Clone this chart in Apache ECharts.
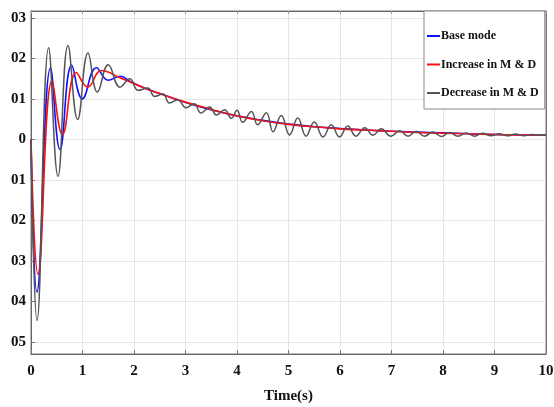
<!DOCTYPE html>
<html>
<head>
<meta charset="utf-8">
<script src="https://cdn.jsdelivr.net/npm/echarts@6/dist/echarts.min.js"></script>
<style>
  html, body { margin: 0; padding: 0; background: #fff; }
  #main { width: 554px; height: 407px; }
</style>
</head>
<body>
<div id="main"></div>
<script>
// series names
var seriesNames = ["Base mode", "Increase in M & D", "Decrease in M & D"];

// x axis ticks (s)
var xTicks = [0, 1, 2, 3, 4, 5, 6, 7, 8, 9, 10];
// y axis ticks and their labels as printed
var yTicks = [0.03, 0.02, 0.01, 0, -0.01, -0.02, -0.03, -0.04, -0.05];
var yLabels = ["03", "02", "01", "0", "01", "02", "03", "04", "05"];

// base mode (blue): read at turning points then along the decay
var tBase = [0, 0.115, 0.38, 0.563, 0.79, 0.997, 1.27, 1.50, 1.73, 1.95, 2.2, 2.5, 3.0, 3.5, 4.0, 4.5, 5.0, 5.5, 6.0, 6.5, 7.0, 7.5, 8.0, 8.5, 9.0, 9.5, 10];
var vBase = [0, -0.0377, 0.0177, -0.0025, 0.0183, 0.0100, 0.0177, 0.0146, 0.0156, 0.0141, 0.0127, 0.0113, 0.0091, 0.0073, 0.0058, 0.0047, 0.0038, 0.0031, 0.0027, 0.0023, 0.0020, 0.0018, 0.0016, 0.0014, 0.0012, 0.0011, 0.0010];

// increase in M & D (red)
var tInc = [0, 0.136, 0.41, 0.61, 0.88, 1.10, 1.37, 1.73, 2.0, 2.2, 2.5, 3.0, 3.5, 4.0, 4.5, 5.0, 5.5, 6.0, 6.5, 7.0, 7.5, 8.0, 8.5, 9.0, 9.5, 10];
var vInc = [0, -0.0333, 0.0146, 0.0012, 0.0165, 0.0129, 0.0170, 0.0152, 0.0138, 0.0127, 0.0113, 0.0092, 0.0074, 0.0058, 0.0046, 0.0037, 0.0031, 0.0026, 0.0023, 0.0020, 0.0017, 0.0015, 0.0014, 0.0012, 0.0011, 0.0010];

// decrease in M & D (gray): peaks and troughs of the oscillation
var tDec = [0, 0.117, 0.343, 0.524, 0.718, 0.906, 1.107, 1.29, 1.50, 1.73, 1.92, 2.08, 2.27, 2.40, 2.56, 2.69, 2.85, 3.01, 3.17, 3.30, 3.47, 3.60, 3.76, 3.89, 4.00, 4.11, 4.28, 4.40, 4.57, 4.70, 4.86, 5.02, 5.18, 5.34, 5.50, 5.67, 5.83, 5.99, 6.15, 6.31, 6.48, 6.64, 6.80, 6.99, 7.16, 7.32, 7.48, 7.64, 7.80, 7.97, 8.13, 8.29, 8.45, 8.61, 8.77, 8.93, 9.09, 9.25, 9.41, 9.57, 9.73, 9.89, 10];
var vDec = [0, -0.0447, 0.0226, -0.0091, 0.0232, 0.0049, 0.0213, 0.0117, 0.0184, 0.0129, 0.0150, 0.0121, 0.0127, 0.0106, 0.0112, 0.0090, 0.0098, 0.0078, 0.0088, 0.0065, 0.0080, 0.0060, 0.0073, 0.0052, 0.0072, 0.0042, 0.0069, 0.0036, 0.0066, 0.0019, 0.0059, 0.0011, 0.0053, 0.0008, 0.0043, 0.0006, 0.0036, 0.0006, 0.0033, 0.0008, 0.0029, 0.0010, 0.0026, 0.0008, 0.0021, 0.0008, 0.0020, 0.0008, 0.0018, 0.0007, 0.0017, 0.0008, 0.0016, 0.0008, 0.0015, 0.0009, 0.0014, 0.0009, 0.0013, 0.0009, 0.0012, 0.0010, 0.0011];

function pairs(t, v) {
  return t.map(function (x, i) { return [x, v[i]]; });
}

var font = "'Liberation Serif', 'Times New Roman', serif";
var chart = echarts.init(document.getElementById("main"), null, { renderer: "canvas" });

function yFmt(val) {
  for (var i = 0; i < yTicks.length; i++) {
    if (Math.abs(val - yTicks[i]) < 1e-6) return yLabels[i];
  }
  return "";
}

var axisLine = { onZero: false, lineStyle: { color: "#666", width: 1 } };
var split = { show: true, lineStyle: { color: "#e6e6e6", width: 1 } };

chart.setOption({
  backgroundColor: "#fff",
  animation: false,
  grid: { left: 31, right: 8, top: 11, bottom: 53, outerBoundsMode: "none", containLabel: false, show: true, borderColor: "#777", borderWidth: 1, backgroundColor: "#fff" },
  legend: {
    orient: "vertical",
    left: 424,
    top: 11,
    data: seriesNames,
    icon: "rect",
    backgroundColor: "#fff",
    borderColor: "#888",
    borderWidth: 1,
    borderRadius: 0,
    padding: [18, 6, 9, 3],
    itemWidth: 13,
    itemHeight: 2,
    itemGap: 14.5,
    textStyle: { fontFamily: font, fontWeight: "bold", fontSize: 12, lineHeight: 14, color: "#111", padding: [0, 0, 0, -4] }
  },
  xAxis: [{
    type: "value",
    min: xTicks[0],
    max: xTicks[xTicks.length - 1],
    interval: 1,
    name: "Time(s)",
    nameLocation: "middle",
    nameGap: 35,
    nameTextStyle: { fontFamily: font, fontWeight: "bold", fontSize: 15, color: "#111" },
    axisLine: axisLine,
    axisTick: { inside: true, length: 4, lineStyle: { color: "#777" } },
    axisLabel: { fontFamily: font, fontWeight: "bold", fontSize: 15, color: "#111", margin: 10 },
    splitLine: split
  }, {
    type: "value",
    position: "top",
    min: 0, max: 10, interval: 1,
    axisLine: axisLine,
    axisTick: { inside: true, length: 3, lineStyle: { color: "#999" } },
    axisLabel: { show: false },
    splitLine: { show: false }
  }],
  yAxis: [{
    type: "value",
    min: -0.053,
    max: 0.0317,
    splitNumber: 8,
    axisLine: { show: true, onZero: false, lineStyle: { color: "#666", width: 1 } },
    axisTick: { show: true, inside: true, length: 4, lineStyle: { color: "#777" } },
    axisLabel: { fontFamily: font, fontWeight: "bold", fontSize: 15, color: "#111", margin: 5, formatter: yFmt, showMinLabel: false, showMaxLabel: false },
    splitLine: split
  }, {
    type: "value",
    position: "right",
    min: -0.053,
    max: 0.0317,
    splitNumber: 8,
    axisLine: { show: true, onZero: false, lineStyle: { color: "#777", width: 1 } },
    axisTick: { show: false },
    axisLabel: { show: false },
    splitLine: { show: false }
  }],
  series: [{
    name: seriesNames[0],
    type: "line",
    data: pairs(tBase, vBase),
    smooth: 0.45,
    symbol: "none",
    color: "#1010ff",
    lineStyle: { width: 1.6, color: "#1010ff" }
  }, {
    name: seriesNames[1],
    type: "line",
    data: pairs(tInc, vInc),
    smooth: 0.45,
    symbol: "none",
    color: "#ff1010",
    lineStyle: { width: 1.6, color: "#ff1010" }
  }, {
    name: seriesNames[2],
    type: "line",
    data: pairs(tDec, vDec),
    smooth: 0.45,
    symbol: "none",
    color: "#555",
    lineStyle: { width: 1.5, color: "#555" }
  }]
});
</script>
</body>
</html>
